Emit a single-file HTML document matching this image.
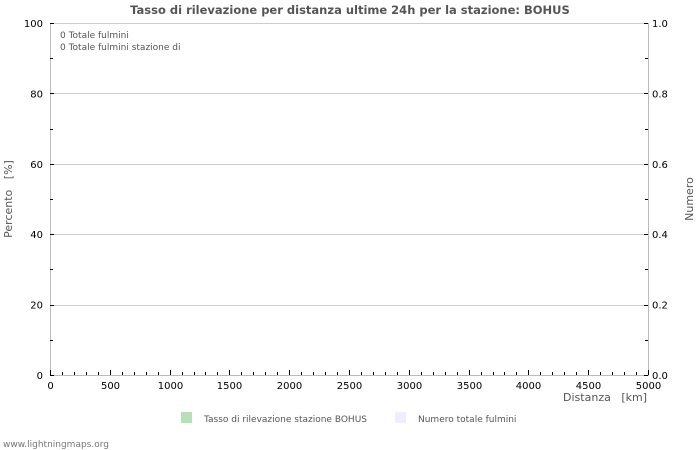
<!DOCTYPE html>
<html><head><meta charset="utf-8"><style>
html,body{margin:0;padding:0;background:#fff;}
svg{display:block;font-family:"DejaVu Sans","Liberation Sans",sans-serif;}
text{white-space:pre;}
</style></head><body>
<svg id="s" width="700" height="450" viewBox="0 0 700 450" xmlns="http://www.w3.org/2000/svg">
<rect width="700" height="450" fill="#fff"/>
<text x="350" y="14" text-anchor="middle" font-size="11.5" font-weight="bold" fill="#555">Tasso di rilevazione per distanza ultime 24h per la stazione: BOHUS</text>
<g id="grid" stroke="#cccccc" stroke-width="1"></g>
<line x1="50.5" y1="23" x2="50.5" y2="375" stroke="#bbb"/>
<line x1="648.5" y1="23" x2="648.5" y2="375" stroke="#bbb"/>
<line x1="50" y1="375.5" x2="649" y2="375.5" stroke="#bbb"/>
<g id="ticks" stroke="#000" stroke-width="1"></g>
<g id="lab" font-size="10" fill="#000"></g>
<text x="60" y="38" font-size="9" fill="#555">0 Totale fulmini</text>
<text x="60" y="50" font-size="9" fill="#555">0 Totale fulmini stazione di</text>
<text x="12" y="199" font-size="11" fill="#555" text-anchor="middle" transform="rotate(-90 12 199)">Percento   [%]</text>
<text x="693" y="199" font-size="11" fill="#555" text-anchor="middle" transform="rotate(-90 693 199)">Numero</text>
<text x="647" y="401" font-size="11" fill="#555" text-anchor="end">Distanza   [km]</text>
<rect x="181" y="412" width="11" height="11" fill="#b8e0b8"/>
<text x="204" y="422" font-size="9" fill="#555">Tasso di rilevazione stazione BOHUS</text>
<rect x="395" y="412" width="11" height="11" fill="#eeeeff"/>
<text x="418" y="422" font-size="9" fill="#555">Numero totale fulmini</text>
<text x="3" y="447" font-size="9" fill="#777">www.lightningmaps.org</text>
</svg>
<script>
(function(){
var ns="http://www.w3.org/2000/svg";
function el(p,t,a,txt){var e=document.createElementNS(ns,t);for(var k in a)e.setAttribute(k,a[k]);if(txt!==undefined)e.textContent=txt;document.getElementById(p).appendChild(e);}
var T=23,B=375,L=50,R=648;
for(var i=0;i<=5;i++){var y=B-(B-T)*i/5;
 if(i>0) el("grid","line",{x1:L,x2:R,y1:Math.round(y)+.5,y2:Math.round(y)+.5});
 el("lab","text",{x:43,y:y+4,"text-anchor":"end"},String(i*20));
 el("lab","text",{x:652,y:y+4},(i*0.2).toFixed(1));
 el("ticks","line",{x1:L,x2:L+4,y1:Math.round(y)+.5,y2:Math.round(y)+.5});
 el("ticks","line",{x1:R-4,x2:R,y1:Math.round(y)+.5,y2:Math.round(y)+.5});
 if(i<5){var ym=Math.round(y-(B-T)/10)+.5;
 el("ticks","line",{x1:L,x2:L+3,y1:ym,y2:ym});
 el("ticks","line",{x1:R-3,x2:R,y1:ym,y2:ym});}
}
for(var k=0;k<=50;k++){var x=Math.round(L+(R-L)*k/50)+.5;var maj=k%5==0;
 el("ticks","line",{x1:x,x2:x,y1:375,y2:maj?370:372});
 if(maj) el("lab","text",{x:x,y:389,"text-anchor":"middle"},String(k*100));
}
})();
</script>
</body></html>
